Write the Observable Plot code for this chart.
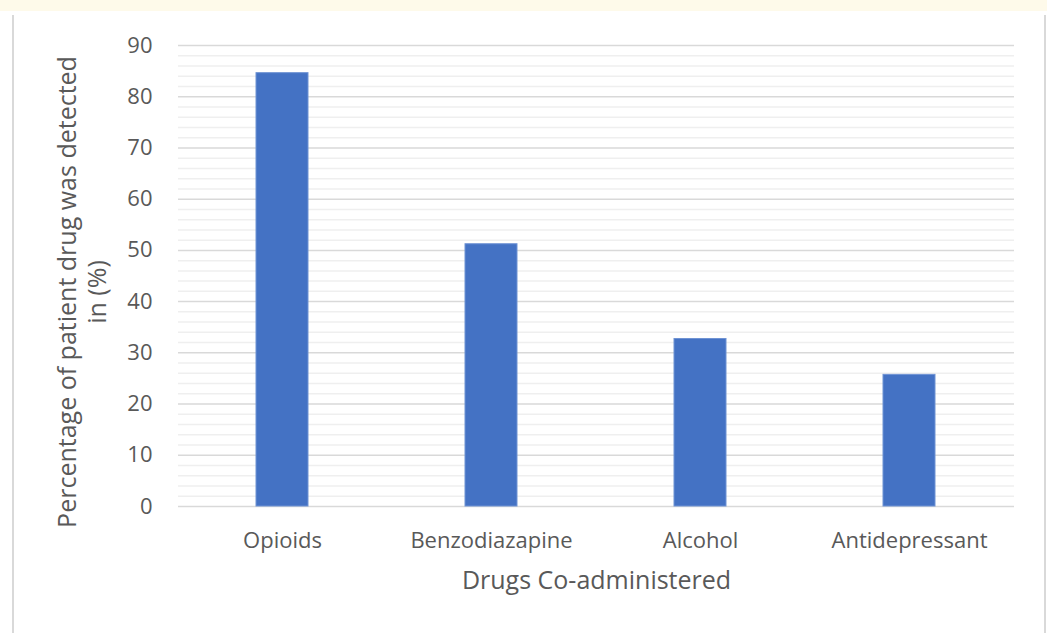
<!DOCTYPE html>
<html>
<head>
<meta charset="utf-8">
<script src="https://cdn.jsdelivr.net/npm/d3@7"></script>
<script src="https://cdn.jsdelivr.net/npm/@observablehq/plot@0.6"></script>
<style>
  html, body { margin: 0; padding: 0; }
  body { width: 1047px; height: 633px; background: #fefaea; position: relative; overflow: hidden; font-family: "Open Sans", sans-serif; }
  #panel { position: absolute; left: 0; top: 11px; width: 1047px; height: 622px; background: #ffffff; }
  #edgeL { position: absolute; left: 12px; top: 15px; width: 2px; height: 618px; background: #d9d9d9; }
  #edgeR { position: absolute; left: 1044px; top: 15px; width: 2px; height: 618px; background: #d9d9d9; }
  #chart { position: absolute; left: 0; top: 0; }
</style>
</head>
<body>
<div id="panel"></div>
<div id="edgeL"></div>
<div id="edgeR"></div>
<div id="chart"></div>
<script>
// Share of patients in whom each co-administered drug was detected
const categories = ["Opioids", "Benzodiazapine", "Alcohol", "Antidepressant"];
const percentages = [84.6, 51.2, 32.7, 25.7];
const majorTicks = [0, 10, 20, 30, 40, 50, 60, 70, 80, 90];
const minorTicks = d3.range(0, 91, 2).filter(v => v % 10 !== 0);

const yTitle = "Percentage of patient drug was detected\nin (%)";
const xTitle = "Drugs Co-administered";

const data = categories.map((c, i) => ({drug: c, value: percentages[i]}));
const textColor = "#595959";

const chart = Plot.plot({
  width: 1047,
  height: 633,
  marginLeft: 178,
  marginRight: 33,
  marginTop: 45,
  marginBottom: 127,
  style: {background: "transparent", fontFamily: "Open Sans, sans-serif", color: textColor},
  x: {domain: categories, paddingInner: 0.75, paddingOuter: 0.375, label: null},
  y: {domain: [0, 90], label: null},
  marks: [
    Plot.ruleY(minorTicks, {stroke: "#efefef", strokeWidth: 1.5}),
    Plot.ruleY(majorTicks, {stroke: "#d9d9d9", strokeWidth: 1.5}),
    Plot.barY(data, {x: "drug", y: "value", fill: "#4472c4", stroke: "#6f93d4", strokeWidth: 1}),
    Plot.axisY({ticks: majorTicks, tickSize: 0, tickPadding: 26, fontSize: 22, fill: textColor, label: null}),
    Plot.axisX({tickSize: 0, tickPadding: 26, fontSize: 22, fill: textColor, label: null}),
    Plot.text([yTitle], {frameAnchor: "left", dx: -97, dy: 16, rotate: -90, fontSize: 25, fill: textColor, lineHeight: 1.2, textAnchor: "middle"}),
    Plot.text([xTitle], {frameAnchor: "bottom", dy: 82, fontSize: 25, fill: textColor})
  ]
});
document.getElementById("chart").appendChild(chart);
</script>
</body>
</html>
